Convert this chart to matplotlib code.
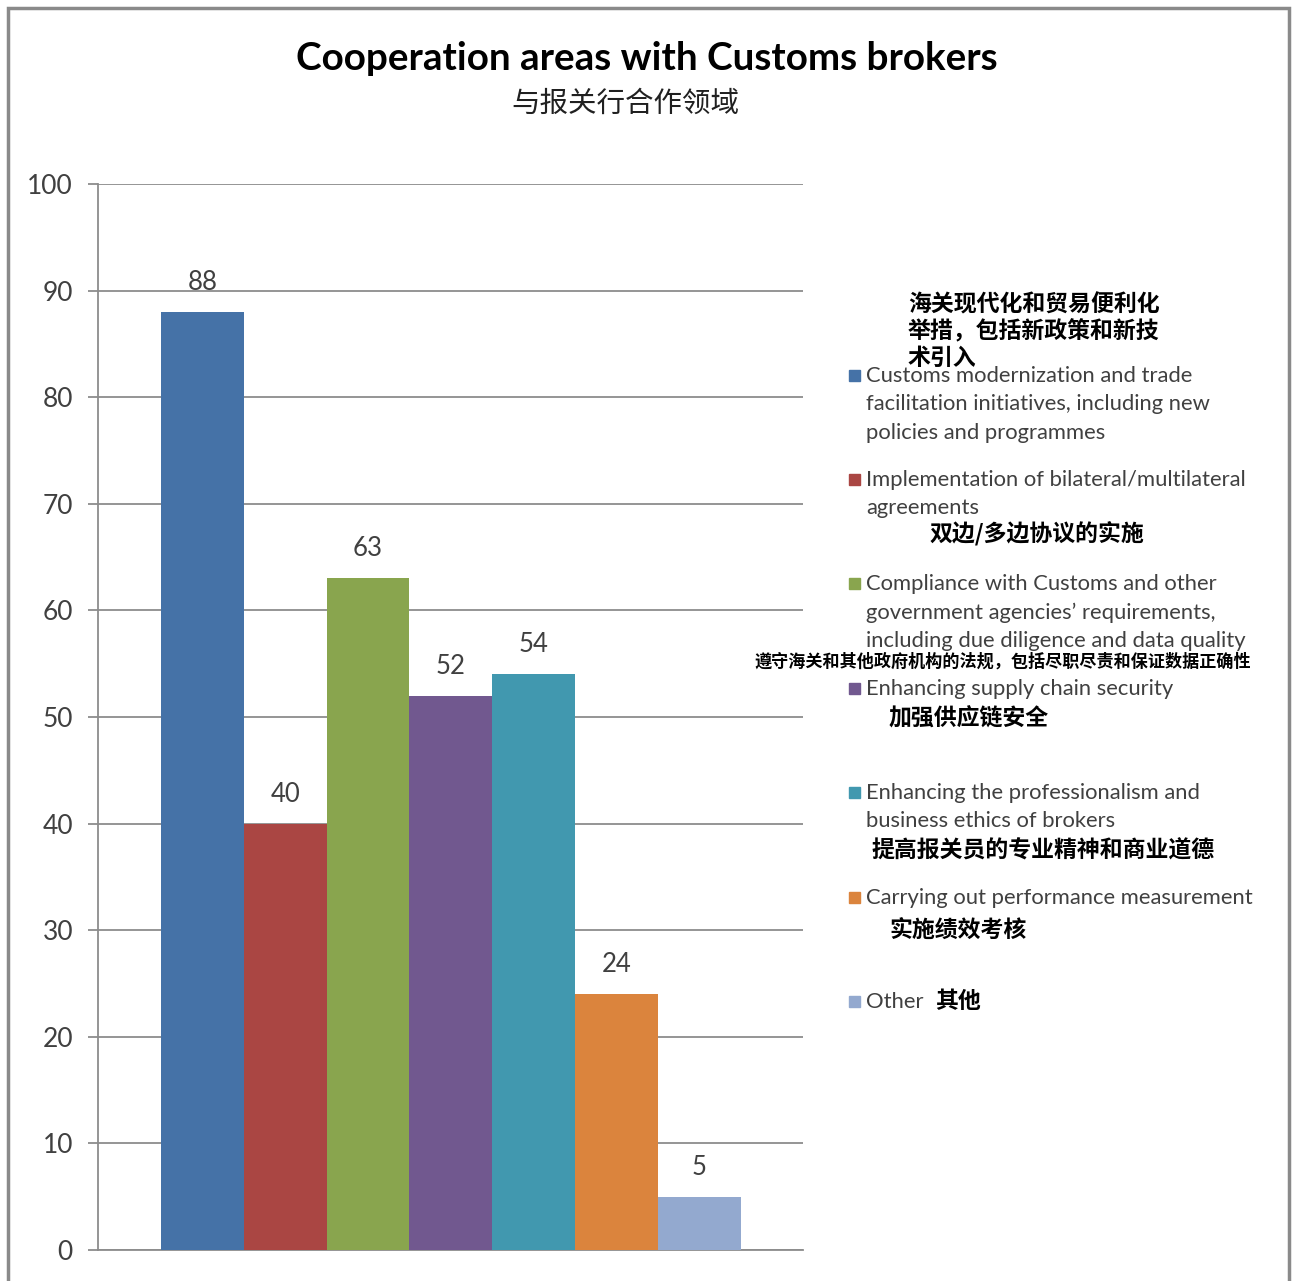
import matplotlib
matplotlib.use('Agg')
import matplotlib.pyplot as plt
from matplotlib.patches import Rectangle

# survey results: share of respondents per cooperation area
areas_en = [
    'Customs modernization and trade\nfacilitation initiatives, including new\npolicies and programmes',
    'Implementation of bilateral/multilateral\nagreements',
    'Compliance with Customs and other\ngovernment agencies\u2019 requirements,\nincluding due diligence and data quality',
    'Enhancing supply chain security',
    'Enhancing the professionalism and\nbusiness ethics of brokers',
    'Carrying out performance measurement',
    'Other',
]
areas_cn = [
    '海关现代化和贸易便利化\n举措，包括新政策和新技\n术引入',
    '双边/多边协议的实施',
    '遵守海关和其他政府机构的法规，包括尽职尽责和保证数据正确性',
    '加强供应链安全',
    '提高报关员的专业精神和商业道德',
    '实施绩效考核',
    '其他',
]
values = [88, 40, 63, 52, 54, 24, 5]
colors = ['#4572A7', '#AA4643', '#89A54E', '#71588F', '#4198AF', '#DB843D', '#93A9CF']
yticks = [0, 10, 20, 30, 40, 50, 60, 70, 80, 90, 100]

W, H = 1292, 1281
EN = ['Lato', 'DejaVu Sans']
CN = ['Noto Sans CJK SC', 'DejaVu Sans']
TXT = '#404040'
GRID = '#8c8c8c'


def fx(px):
    return px / W


def fy(py):
    return 1 - py / H


fig = plt.figure(figsize=(W / 100, H / 100), dpi=100)
ax = fig.add_axes([fx(98), fy(1250), fx(803) - fx(98), fy(184) - fy(1250)])

x = list(range(len(values)))
ax.bar(x, values, width=1.0, color=colors, zorder=3)
for xi, v in zip(x, values):
    ax.text(xi, v + 1.6, str(v), ha='center', va='bottom',
            fontsize=18.5, color=TXT, family=EN, zorder=4)

ax.set_xlim(-1.26, 7.25)
ax.set_ylim(0, 100)
ax.set_yticks(yticks)
ax.set_xticks([])
ax.yaxis.grid(True, color=GRID, linewidth=1.3, zorder=0)
ax.tick_params(axis='y', length=7, width=1.3, color=GRID, pad=11,
               labelsize=19, labelcolor=TXT)
for lab in ax.get_yticklabels():
    lab.set_family(EN)
for side in ['top', 'right']:
    ax.spines[side].set_visible(False)
ax.spines['left'].set_color(GRID)
ax.spines['left'].set_linewidth(1.3)
ax.spines['bottom'].set_color(GRID)
ax.spines['bottom'].set_linewidth(1.3)

# titles
fig.text(fx(647), fy(58), 'Cooperation areas with Customs brokers',
         ha='center', va='center', fontsize=27.8, fontweight='bold',
         family=EN, color='black')
fig.text(fx(625), fy(104), '与报关行合作领域', ha='center', va='center',
         fontsize=20.5, family=CN, color='#202020')

# hand-placed legend entries (english + chinese captions)
en_y = [375, 479, 583, 688, 792, 897, 1001]
cn_pos = [(908, 293), (930, 533), (754, 662), (889, 719),
          (871, 851), (889, 930), (935, 1001)]
cn_size = [16.5, 16.5, 12.3, 16.5, 16.5, 16.5, 16.5]
for i, (lab, c) in enumerate(zip(areas_en, colors)):
    y0 = en_y[i]
    fig.patches.append(Rectangle((fx(849), fy(y0 + 6)), fx(11), 11 / H,
                                 transform=fig.transFigure, color=c))
    fig.text(fx(866), fy(y0 - 9), lab, ha='left', va='top', fontsize=15.8,
             family=EN, color=TXT, linespacing=1.52)
    cx, cy = cn_pos[i]
    fig.text(fx(cx), fy(cy), areas_cn[i], ha='left',
             va='center' if i else 'top',
             fontsize=cn_size[i], fontweight='bold', family=CN,
             color='black', linespacing=1.2)

# outer frame
fig.patches.append(Rectangle((fx(8), -0.05), fx(1281), fy(8) + 0.05,
                             transform=fig.transFigure, fill=False,
                             edgecolor='#8a8a8a', linewidth=2.5))

fig.savefig('out.png', dpi=100, facecolor='white')
